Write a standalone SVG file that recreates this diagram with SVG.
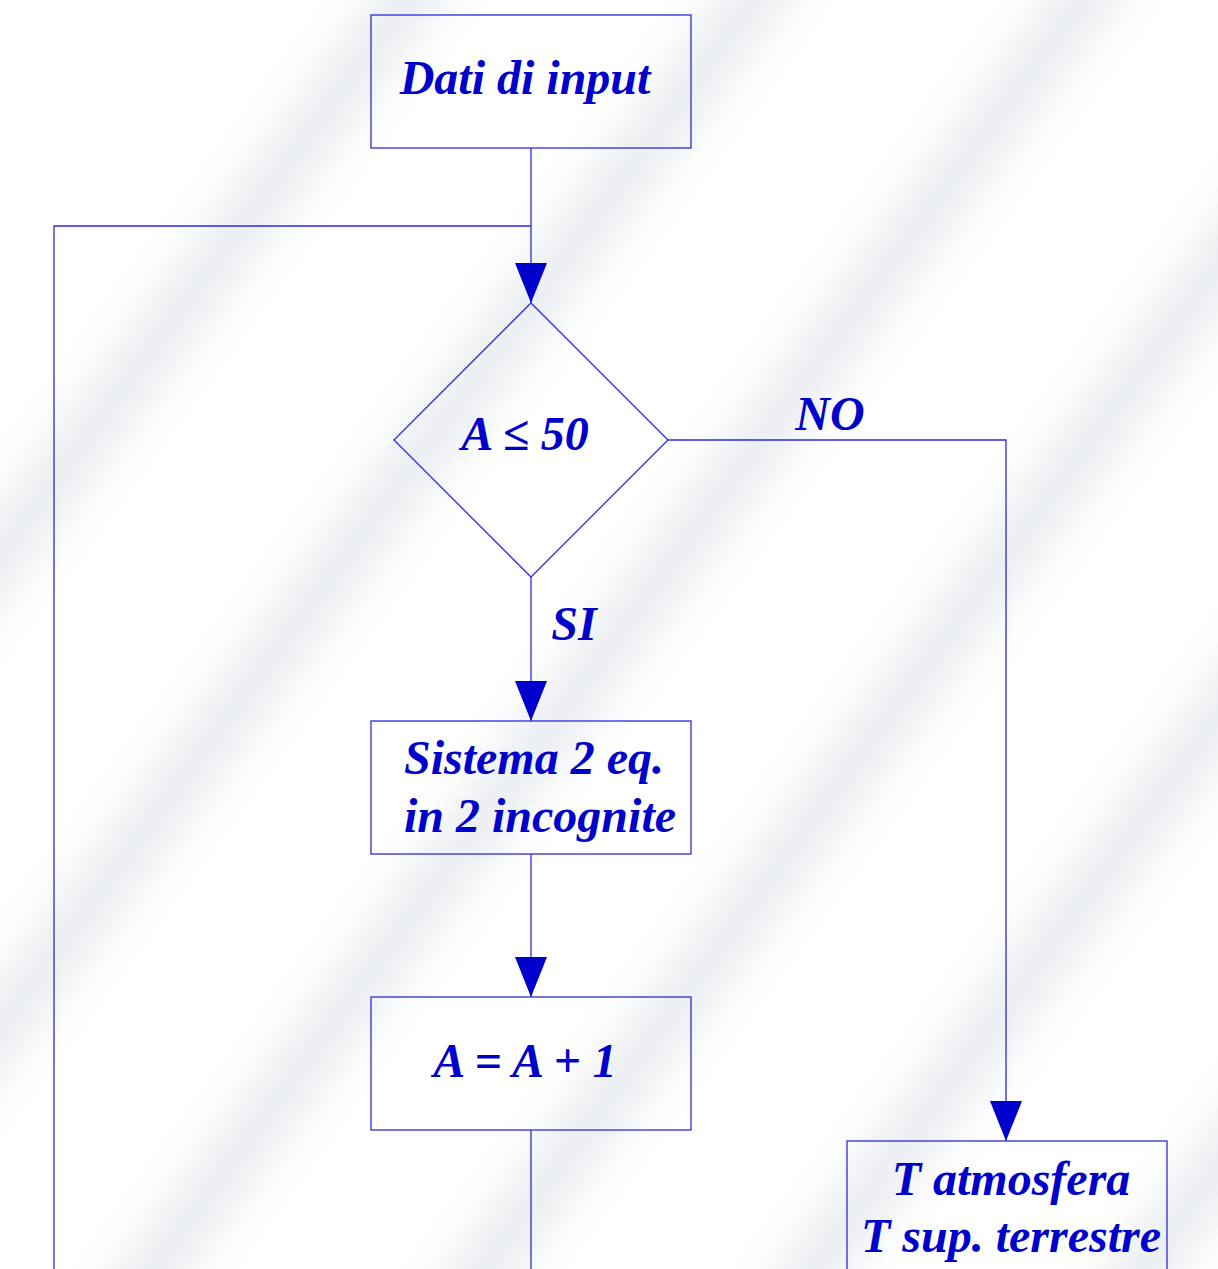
<svg xmlns="http://www.w3.org/2000/svg" width="1218" height="1269" viewBox="0 0 1218 1269">
<defs>
<filter id="blur" x="-20%" y="-20%" width="140%" height="140%"><feGaussianBlur stdDeviation="22"/></filter>
<marker id="arr" markerWidth="40" markerHeight="32" refX="40" refY="16" orient="auto" markerUnits="userSpaceOnUse" viewBox="0 0 40 32">
<path d="M0,0 L40,16 L0,32 Z" fill="#0000CC"/>
</marker>
<style>
.box{fill:none;stroke:#2B2BDD;stroke-width:1.3}
.ln{fill:none;stroke:#2B2BDD;stroke-width:1.3}
.t{font-family:"Liberation Serif","Times New Roman",serif;font-style:italic;font-weight:bold;font-size:48px;fill:#0000CC}
.bg{stroke:#E6EAEF;stroke-width:60;fill:none}
</style>
</defs>
<rect width="1218" height="1269" fill="#FFFFFF"/>
<g id="background" filter="url(#blur)" opacity="0.85">
<line class="bg" x1="444" y1="-50" x2="-560" y2="1320"/>
<line class="bg" x1="790" y1="-50" x2="-214" y2="1320"/>
<line class="bg" x1="1120" y1="-50" x2="116" y2="1320"/>
<line class="bg" x1="1450" y1="-50" x2="446" y2="1320"/>
<line class="bg" x1="1780" y1="-50" x2="776" y2="1320"/>
<line class="bg" x1="2110" y1="-50" x2="1106" y2="1320"/>
</g>
<g id="connectors">
<path class="ln" d="M531,148 V303" marker-end="url(#arr)"/>
<path class="ln" d="M54,1269 V226 H531"/>
<path class="ln" d="M531,577 V721" marker-end="url(#arr)"/>
<path class="ln" d="M531,854 V997" marker-end="url(#arr)"/>
<path class="ln" d="M531,1130 V1269"/>
<path class="ln" d="M668,440 H1006 V1141" marker-end="url(#arr)"/>
<text class="t" x="830" y="430" text-anchor="middle">NO</text>
<text class="t" x="574" y="640" text-anchor="middle">SI</text>
</g>
<g id="node-input">
<rect class="box" x="371" y="15" width="320" height="133"/>
<text class="t" x="525" y="94" text-anchor="middle">Dati di input</text>
</g>
<g id="node-decision">
<polygon class="box" points="531,303 668,440 531,577 394,440"/>
<text class="t" x="525" y="450" text-anchor="middle">A ≤ 50</text>
</g>
<g id="node-sistema">
<rect class="box" x="371" y="721" width="320" height="133"/>
<text class="t" x="404" y="774">Sistema 2 eq.</text>
<text class="t" x="404" y="832">in 2 incognite</text>
</g>
<g id="node-increment">
<rect class="box" x="371" y="997" width="320" height="133"/>
<text class="t" x="525" y="1077" text-anchor="middle">A = A + 1</text>
</g>
<g id="node-output">
<rect class="box" x="847" y="1141" width="320" height="140"/>
<text class="t" x="1011" y="1195" text-anchor="middle">T atmosfera</text>
<text class="t" x="1011" y="1252" text-anchor="middle">T sup. terrestre</text>
</g>
</svg>
